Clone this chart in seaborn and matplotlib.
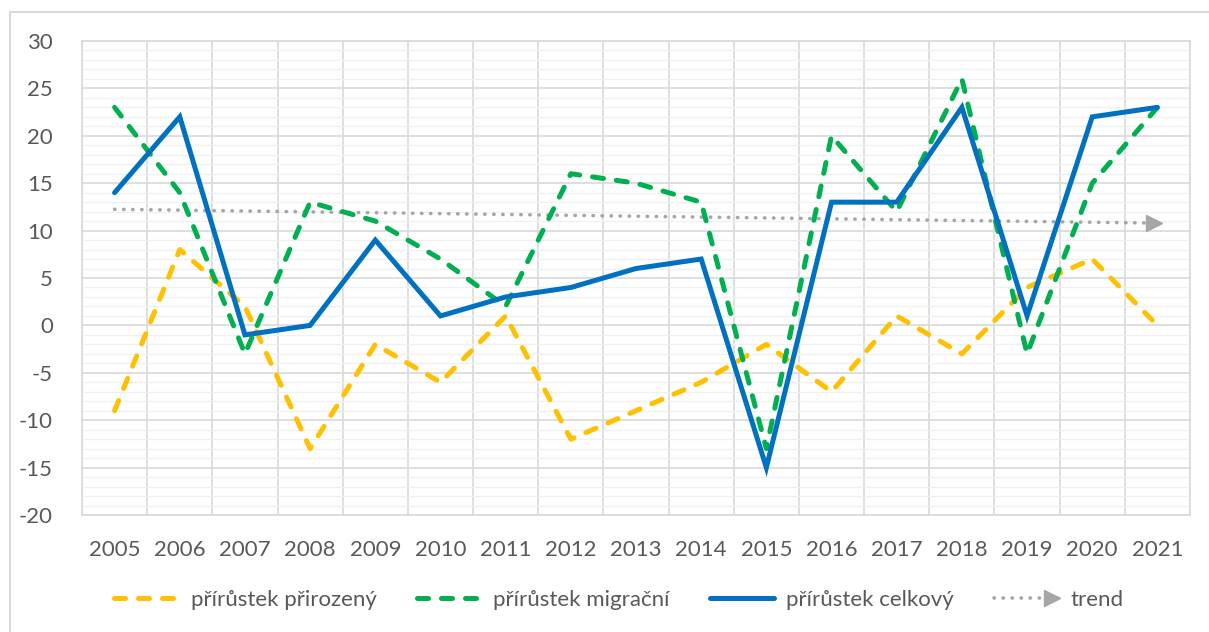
import numpy as np
import pandas as pd
import matplotlib
matplotlib.use("Agg")
import matplotlib.pyplot as plt
import seaborn as sns
from matplotlib.lines import Line2D
from matplotlib.legend_handler import HandlerLine2D
from matplotlib.patches import Rectangle
from matplotlib.ticker import MultipleLocator

years = [2005, 2006, 2007, 2008, 2009, 2010, 2011, 2012, 2013,
         2014, 2015, 2016, 2017, 2018, 2019, 2020, 2021]
prirozeny = [-9, 8, 2, -13, -2, -6, 1, -12, -9, -6, -2, -7, 1, -3, 4, 7, 0]
migracni = [23, 14, -3, 13, 11, 7, 2, 16, 15, 13, -13, 20, 12, 26, -3, 15, 23]
celkovy = [14, 22, -1, 0, 9, 1, 3, 4, 6, 7, -15, 13, 13, 23, 1, 22, 23]
trend_ends = [12.25, 10.8]

labels = ["přírůstek přirozený", "přírůstek migrační", "přírůstek celkový", "trend"]
c_yel = "#FFC000"
c_grn = "#00B050"
c_blu = "#0070C0"
c_trd = "#A6A6A6"
txt = "#595959"

sns.set_style("white")
plt.rcParams["font.family"] = ["Lato", "DejaVu Sans"]
plt.rcParams["axes.unicode_minus"] = False

pos = np.arange(len(years))
df = pd.DataFrame({"pos": pos, "prirozeny": prirozeny,
                   "migracni": migracni, "celkovy": celkovy})

fig = plt.figure(figsize=(12.09, 6.32), dpi=100)
ax = fig.add_axes([82 / 1209, 1 - 515 / 632, (1190 - 82) / 1209, (515 - 41) / 632])

# outer chart border
fig.patches.append(Rectangle((10 / 1209, -0.05), 1.2, 1 - 12 / 632 + 0.05,
                             transform=fig.transFigure, fill=False,
                             edgecolor="#D9D9D9", lw=1.5, zorder=0))

lw = 3.6
dash = (0, (2.2, 2.6))
dots = (0, (0.1, 2.4))
sns.lineplot(data=df, x="pos", y="prirozeny", ax=ax, color=c_yel, lw=lw,
             linestyle=dash, dash_capstyle="round", zorder=3)
sns.lineplot(data=df, x="pos", y="migracni", ax=ax, color=c_grn, lw=lw,
             linestyle=dash, dash_capstyle="round", zorder=4)
sns.lineplot(data=df, x="pos", y="celkovy", ax=ax, color=c_blu, lw=lw,
             solid_joinstyle="miter", zorder=5)

# trend line with arrow head
tx = [pos[0], pos[-1] - 0.12]
ax.plot(tx, trend_ends, color=c_trd, lw=2.6, linestyle=dots,
        dash_capstyle="round", zorder=2)
ax.plot([pos[-1] - 0.05], [trend_ends[1]], marker=">", color=c_trd,
        markersize=11, linestyle="none", zorder=2)

ax.set_xlim(-0.5, len(years) - 0.5)
ax.set_ylim(-20, 30)
ax.yaxis.set_major_locator(MultipleLocator(5))
ax.yaxis.set_minor_locator(MultipleLocator(1))
ax.set_xticks(pos)
ax.set_xticklabels([str(y) for y in years])
ax.set_xticks(np.arange(-0.5, len(years), 1), minor=True)
ax.grid(which="major", axis="y", color="#D9D9D9", lw=1.2)
ax.grid(which="minor", axis="y", color="#F0F0F0", lw=1)
ax.grid(which="minor", axis="x", color="#D9D9D9", lw=1.2)
ax.set_axisbelow(True)
ax.tick_params(which="both", length=0)
ax.tick_params(axis="y", pad=21, labelsize=16, labelcolor=txt)
ax.tick_params(axis="x", pad=18, labelsize=16, labelcolor=txt)
ax.set_xlabel("")
ax.set_ylabel("")
for s in ax.spines.values():
    s.set_color("#D9D9D9")
    s.set_linewidth(1.2)


class ArrowHandler(HandlerLine2D):
    def create_artists(self, legend, orig_handle, xdescent, ydescent,
                       width, height, fontsize, trans):
        arts = super().create_artists(legend, orig_handle, xdescent, ydescent,
                                      width, height, fontsize, trans)
        y = height / 2 - ydescent
        head = Line2D([width - xdescent - 5], [y], marker=">", color=c_trd,
                      markersize=11, linestyle="none", transform=trans)
        return arts + [head]


h_trend = Line2D([], [], color=c_trd, lw=2.6, linestyle=dots,
                 dash_capstyle="round")
handles = [
    Line2D([], [], color=c_yel, lw=lw, linestyle=dash, dash_capstyle="round"),
    Line2D([], [], color=c_grn, lw=lw, linestyle=dash, dash_capstyle="round"),
    Line2D([], [], color=c_blu, lw=lw, solid_capstyle="round"),
    h_trend,
]
leg = fig.legend(handles, labels, loc="center",
                 bbox_to_anchor=(619 / 1209, 1 - 600 / 632),
                 ncol=4, frameon=False, fontsize=16, handlelength=2.9,
                 handletextpad=0.55, columnspacing=1.8,
                 handler_map={h_trend: ArrowHandler()})
for t in leg.get_texts():
    t.set_color(txt)

fig.savefig("out.png", dpi=100)
